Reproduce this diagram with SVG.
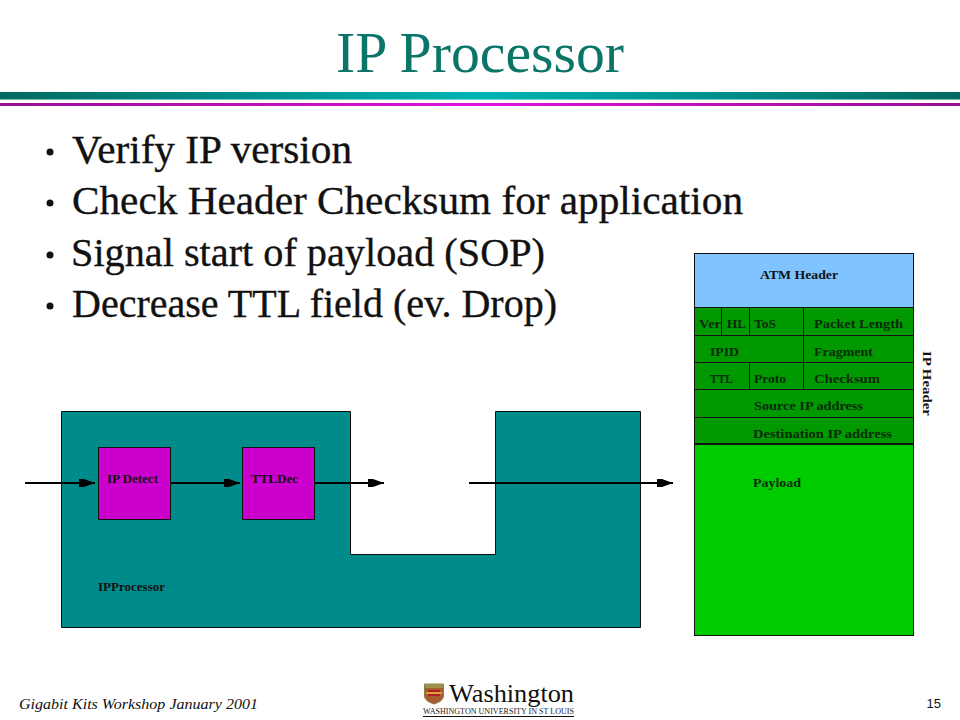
<svg xmlns="http://www.w3.org/2000/svg" width="960" height="720" viewBox="0 0 960 720">
<style>
.s{font-family:"Liberation Serif","DejaVu Serif",serif}
.b{font-family:"Liberation Serif",serif;font-size:41px;fill:#111;stroke:#111;stroke-width:.35}
.d{font-family:"Liberation Serif",serif;font-size:13.500px;font-weight:bold;fill:#111}
.h{font-family:"Liberation Serif",serif;font-size:13.500px;font-weight:bold;fill:#0a2a0a}
.box{stroke:#111;stroke-width:1}
.c{stroke:#000;stroke-width:2;fill:none;marker-end:url(#a)}
</style>
<defs>
<marker id="a" viewBox="0 0 16 9" refX="16" refY="4.500" markerWidth="16" markerHeight="9" markerUnits="userSpaceOnUse" orient="auto"><path d="M0 0.500L5 0.500L16 4.500L5 8.500L0 8.500Z" fill="#000"/></marker>
<linearGradient id="g1"><stop offset="0" stop-color="#006a60"/><stop offset=".5" stop-color="#00b4b4"/><stop offset="1" stop-color="#006a60"/></linearGradient>
<linearGradient id="g2"><stop offset="0" stop-color="#98109a"/><stop offset=".5" stop-color="#e010e0"/><stop offset="1" stop-color="#98109a"/></linearGradient>
</defs>
<rect width="960" height="720" fill="#fff"/>
<text class="s" x="336" y="72" font-size="58" fill="#0b7568" textLength="288" lengthAdjust="spacingAndGlyphs">IP Processor</text>
<rect x="0" y="92" width="960" height="7.500" fill="url(#g1)"/>
<rect x="0" y="103" width="960" height="3" fill="url(#g2)"/>
<g id="bullets">
<circle cx="50" cy="152" r="3.500" fill="#111"/><text class="b" x="72" y="163" textLength="280" lengthAdjust="spacingAndGlyphs">Verify IP version</text>
<circle cx="50" cy="203" r="3.500" fill="#111"/><text class="b" x="72" y="214" textLength="671" lengthAdjust="spacingAndGlyphs">Check Header Checksum for application</text>
<circle cx="50" cy="255" r="3.500" fill="#111"/><text class="b" x="71" y="266" textLength="474" lengthAdjust="spacingAndGlyphs">Signal start of payload (SOP)</text>
<circle cx="50" cy="306" r="3.500" fill="#111"/><text class="b" x="72" y="317" textLength="485" lengthAdjust="spacingAndGlyphs">Decrease TTL field (ev. Drop)</text>
</g>
<g id="ipprocessor">
<path d="M61.500 411.500H350.500V554.500H495.500V411.500H640.500V627.500H61.500Z" fill="#008b8b" stroke="#111"/>
<text class="d" x="98" y="591" textLength="67" lengthAdjust="spacingAndGlyphs">IPProcessor</text>
</g>
<g id="ip-detect"><rect class="box" x="98.500" y="447.500" width="72" height="72" fill="#cc00cc"/><text class="d" x="107" y="483" textLength="51" lengthAdjust="spacingAndGlyphs">IP Detect</text></g>
<g id="ttl-dec"><rect class="box" x="242.500" y="447.500" width="72" height="72" fill="#cc00cc"/><text class="d" x="251" y="483" textLength="47" lengthAdjust="spacingAndGlyphs">TTLDec</text></g>
<g id="connectors">
<line class="c" x1="25" y1="483" x2="95" y2="483"/>
<line class="c" x1="171" y1="483" x2="240" y2="483"/>
<line class="c" x1="315" y1="483" x2="384" y2="483"/>
<line class="c" x1="469" y1="483" x2="673" y2="483"/>
</g>
<g id="packet">
<rect class="box" x="694.500" y="253.500" width="219" height="54" fill="#80c4ff"/>
<rect class="box" x="694.500" y="307.500" width="219" height="136" fill="#009a00"/>
<rect class="box" x="694.500" y="444.500" width="219" height="191" fill="#00cc00"/>
<path class="box" fill="none" d="M694.500 335.500H913.500M694.500 362.500H913.500M694.500 389.500H913.500M694.500 417.500H913.500M721.500 307.500V335.500M749.500 307.500V335.500M803.500 307.500V389.500M749.500 362.500V389.500"/>
<text class="d" x="760" y="279" textLength="78" lengthAdjust="spacingAndGlyphs">ATM Header</text>
<text class="h" x="699" y="328" textLength="22" lengthAdjust="spacingAndGlyphs">Ver</text><text class="h" x="727" y="328" textLength="19" lengthAdjust="spacingAndGlyphs">HL</text><text class="h" x="754" y="328" textLength="22" lengthAdjust="spacingAndGlyphs">ToS</text><text class="h" x="814" y="328" textLength="89" lengthAdjust="spacingAndGlyphs">Packet Length</text>
<text class="h" x="710" y="356" textLength="29" lengthAdjust="spacingAndGlyphs">IPID</text><text class="h" x="814" y="356" textLength="59" lengthAdjust="spacingAndGlyphs">Fragment</text>
<text class="h" x="710" y="383" textLength="23" lengthAdjust="spacingAndGlyphs">TTL</text><text class="h" x="754" y="383" textLength="32" lengthAdjust="spacingAndGlyphs">Proto</text><text class="h" x="814" y="383" textLength="66" lengthAdjust="spacingAndGlyphs">Checksum</text>
<text class="h" x="754" y="410" textLength="109" lengthAdjust="spacingAndGlyphs">Source IP address</text>
<text class="h" x="753" y="438" textLength="139" lengthAdjust="spacingAndGlyphs">Destination IP address</text>
<text class="h" x="753" y="487" textLength="48" lengthAdjust="spacingAndGlyphs">Payload</text>
<text class="d" transform="translate(923 351) rotate(90)" textLength="65" lengthAdjust="spacingAndGlyphs">IP Header</text>
</g>
<g id="footer">
<text class="s" x="19" y="709" font-size="15" font-style="italic" fill="#111" textLength="239" lengthAdjust="spacingAndGlyphs">Gigabit Kits Workshop January 2001</text>
<text x="941" y="708" text-anchor="end" font-family="Liberation Sans,sans-serif" font-size="13" fill="#111">15</text>
<path d="M424.500 684H443.500V696Q443.500 701 434 704Q424.500 701 424.500 696Z" fill="#a85a30" stroke="#8a8040"/>
<rect x="425" y="684" width="18" height="4" fill="#a09050"/>
<rect x="428" y="690" width="12" height="6" fill="#b02020"/>
<rect x="426" y="692" width="16" height="2" fill="#e0a040"/>
<text class="s" x="449" y="702" font-size="25" fill="#111" textLength="125" lengthAdjust="spacingAndGlyphs">Washington</text>
<text class="s" x="423" y="714" font-size="7.500" fill="#222" textLength="151" lengthAdjust="spacingAndGlyphs">WASHINGTON UNIVERSITY IN ST LOUIS</text>
<line x1="423" y1="716.500" x2="574" y2="716.500" stroke="#111"/>
</g>
</svg>
